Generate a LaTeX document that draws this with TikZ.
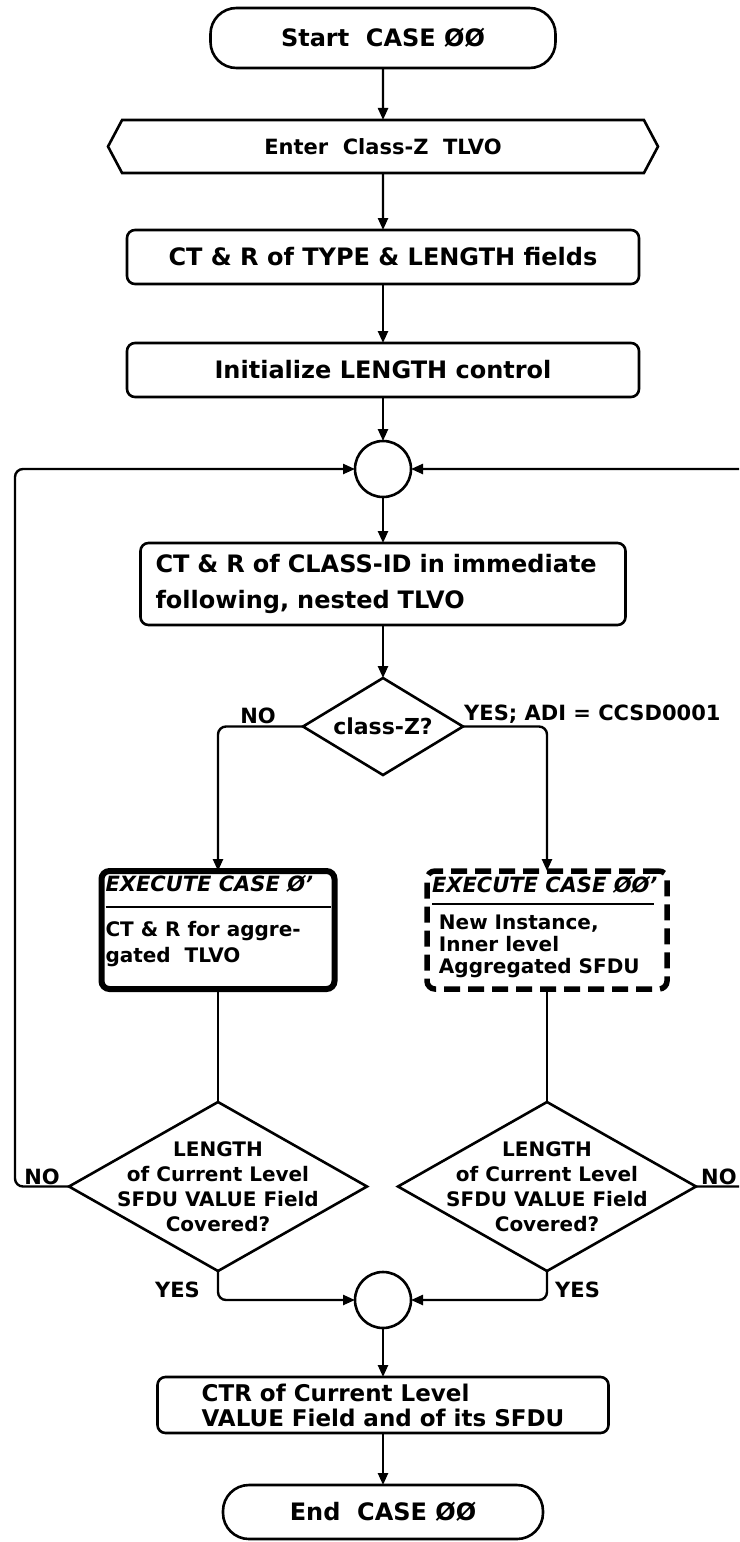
\documentclass[tikz,border=0pt]{standalone}
\usepackage{fontspec}
\setmainfont{DejaVu Sans}
\usetikzlibrary{arrows.meta,positioning,shapes.geometric,shapes.symbols}

\newcommand{\hdr}[1]{{\fontsize{21}{22}\selectfont\bfseries\itshape #1}}

\begin{document}
\begin{tikzpicture}[x=1pt,y=-1pt,
every node/.style={font=\fontsize{24}{36}\selectfont\bfseries},
box/.style={draw,line width=2.6pt,outer sep=0pt,rounded corners=8pt,minimum height=54pt,align=center},
term/.style={box,rounded corners=26pt,minimum height=60pt},
io/.style={draw,line width=2.6pt,outer sep=0pt,signal,signal to=west and east,signal pointer angle=124,minimum height=53pt},
dec/.style={draw,line width=2.6pt,outer sep=0pt,diamond,inner sep=0pt},
merge/.style={draw,line width=2.6pt,outer sep=0pt,circle,minimum size=56pt,inner sep=0pt},
exe/.style={box,inner sep=0pt,font=\fontsize{20}{26}\selectfont\bfseries},
lbl/.style={inner sep=1pt,font=\fontsize{21}{24}\selectfont\bfseries},
arr/.style={-{Triangle[length=12pt,width=10pt]},line width=2.4pt},
link/.style={line width=2.4pt}]
\useasboundingbox (0,0) rectangle (739,1542);
\clip (0,0) rectangle (739,1542);
% main column
\node[term,minimum width=345pt] (start) at (383,38) {Start\ \ CASE ØØ};
\node[io,minimum width=550pt,below=52pt of start,font=\fontsize{21}{24}\selectfont\bfseries] (enter) {Enter\ \ Class-Z\ \ TLVO};
\node[box,minimum width=512pt,below=57pt of enter] (type) {CT \& R of TYPE \& LENGTH fields};
\node[box,minimum width=512pt,below=59pt of type] (init) {Initialize LENGTH control};
\node[merge,below=44pt of init] (m1) {};
\node[box,minimum height=82pt,text width=455pt,inner xsep=15pt,align=left,below=46pt of m1] (class) {CT \& R of CLASS-ID in immediate\\following, nested TLVO};
\node[dec,minimum width=160pt,minimum height=97pt,below=53pt of class,
  label={[font=\fontsize{22}{24}\selectfont\bfseries]center:class-Z?}] (dz) {};
% two branches
\node[exe,line width=6pt,inner sep=4pt] (exec0) at (218,930) {\parbox[c][110pt][t]{225pt}{\raggedright
  \hdr{EXECUTE CASE Ø'}\par\vspace{-9pt}\rule{225pt}{2.5pt}\par\vspace{2pt}
  CT \& R for aggre-\\gated\ \ TLVO}};
\node[exe,line width=5.5pt,dash pattern=on 16pt off 8pt,inner sep=5pt] (exec00) at (547,930) {\parbox[c][108pt][t]{230pt}{\fontsize{20}{22}\selectfont\raggedright
  \hdr{EXECUTE CASE ØØ'}\par\vspace{-9pt}\rule{222pt}{2.5pt}\par\vspace{2pt}
  \ New Instance,\\\ Inner level\\\ Aggregated SFDU}};
\node[dec,minimum width=298pt,minimum height=169pt,below=113pt of exec0,
  label={[align=center,font=\fontsize{20}{25}\selectfont\bfseries]center:LENGTH\\of Current Level\\SFDU VALUE Field\\Covered?}] (dl) {};
\node[dec,minimum width=298pt,minimum height=169pt,below=113pt of exec00,
  label={[align=center,font=\fontsize{20}{25}\selectfont\bfseries]center:LENGTH\\of Current Level\\SFDU VALUE Field\\Covered?}] (dr) {};
\node[merge] (m2) at (383,1300) {};
\node[box,minimum width=451pt,minimum height=56pt,inner ysep=3pt,align=left,below=49pt of m2,font=\fontsize{23}{25}\selectfont\bfseries] (ctr) {CTR of Current Level\\VALUE Field and of its SFDU};
\node[term,minimum width=320pt,minimum height=54pt,below=52pt of ctr] (finish) {End\ \ CASE ØØ};
% labels
\node[lbl,anchor=south east] (no1) at ([xshift=-26pt,yshift=2pt]dz.west) {NO};
\node[lbl,anchor=south west] (yes1) at ([yshift=2pt]dz.east) {YES; ADI = CCSD0001};
\node[lbl,anchor=south east] (no2) at ([xshift=-8pt,yshift=1pt]dl.west) {NO};
\node[lbl,anchor=south west] (no3) at ([xshift=4pt,yshift=1pt]dr.east) {NO};
\node[lbl,anchor=east] (yes2) at ([xshift=-17pt,yshift=-19pt]dl.south) {YES};
\node[lbl,anchor=west] (yes3) at ([xshift=7pt,yshift=-19pt]dr.south) {YES};
% connectors
\draw[arr] (start)--(enter); \draw[arr] (enter)--(type); \draw[arr] (type)--(init);
\draw[arr] (init)--(m1); \draw[arr] (m1)--(class); \draw[arr] (class)--(dz);
\draw[arr,rounded corners=8pt] (dz.west) -| (exec0.north);
\draw[arr,rounded corners=8pt] (dz.east) -| (exec00.north);
\draw[link] (exec0)--(dl); \draw[link] (exec00)--(dr);
\draw[arr,rounded corners=8pt] (dl.west) -- ++(-54,0) |- (m1.west);
\draw[arr,rounded corners=8pt] (dr.east) -- ++(60,0) |- (m1.east);
\draw[arr,rounded corners=8pt] (dl.south) |- (m2.west);
\draw[arr,rounded corners=8pt] (dr.south) |- (m2.east);
\draw[arr] (m2)--(ctr); \draw[arr] (ctr)--(finish);
\end{tikzpicture}
\end{document}
